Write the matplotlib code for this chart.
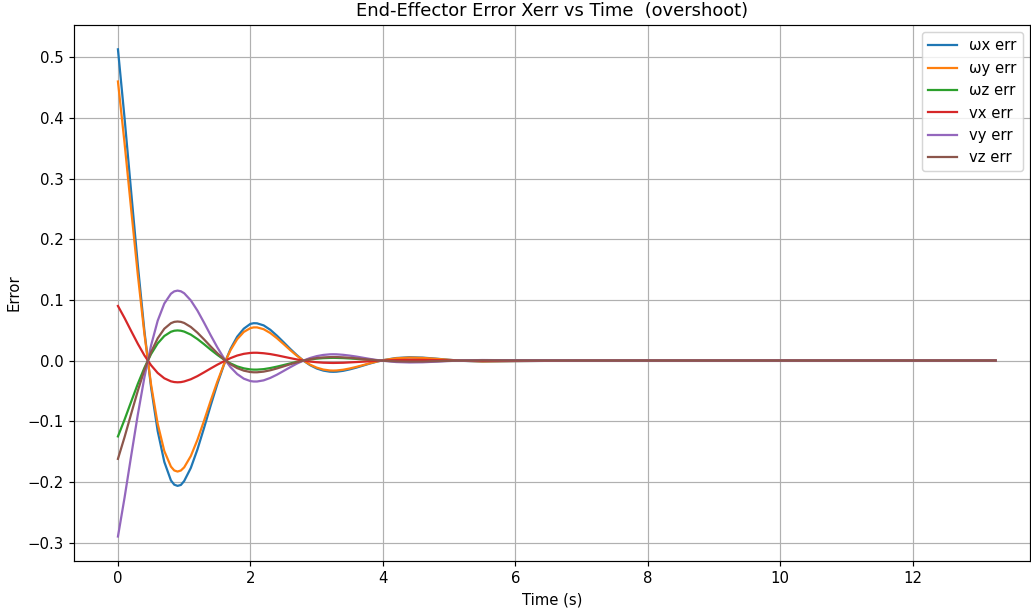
import matplotlib
matplotlib.use("Agg")
import matplotlib.pyplot as plt

# time samples (s)
t = [0.0, 0.1, 0.2, 0.3, 0.4, 0.5, 0.6, 0.7, 0.8, 0.85, 0.9, 0.95,
     1.0, 1.1, 1.2, 1.3, 1.4, 1.5, 1.6, 1.7, 1.8, 1.9,
     2.0, 2.05, 2.1, 2.2, 2.3, 2.4, 2.5, 2.6, 2.7, 2.8, 2.9,
     3.0, 3.1, 3.2, 3.25, 3.3, 3.4, 3.5, 3.6, 3.7, 3.8, 3.9,
     4.0, 4.2, 4.4, 4.6, 4.8, 5.0, 5.2, 5.5, 6.0, 7.0, 13.25]

wx_err = [0.513, 0.3994, 0.2774, 0.1577, 0.0485, -0.0441, -0.1162, -0.1670, -0.1975, -0.2045, -0.2065, -0.2050,
          -0.1985, -0.1770, -0.1465, -0.1110, -0.0740, -0.0388, -0.0070, 0.0193, 0.0393, 0.0526,
          0.0605, 0.0616, 0.0614, 0.0580, 0.0508, 0.0411, 0.0304, 0.0194, 0.0091, -0.0001, -0.0075,
          -0.0130, -0.0165, -0.0183, -0.0185, -0.0183, -0.0169, -0.0145, -0.0116, -0.0083, -0.0050, -0.0020,
          0.0006, 0.0042, 0.0055, 0.0049, 0.0032, 0.0013, -0.0004, -0.0016, -0.0009, 0.0, 0.0]

wy_err = [0.46, 0.3582, 0.2488, 0.1414, 0.0435, -0.0395, -0.1042, -0.1491, -0.1748, -0.1811, -0.1829, -0.1812,
          -0.1760, -0.1574, -0.1306, -0.0992, -0.0663, -0.0348, -0.0063, 0.0173, 0.0352, 0.0472,
          0.0535, 0.0547, 0.0547, 0.0517, 0.0454, 0.0369, 0.0273, 0.0174, 0.0081, 0.0, -0.0067,
          -0.0116, -0.0148, -0.0163, -0.0165, -0.0163, -0.0151, -0.0130, -0.0104, -0.0075, -0.0045, -0.0018,
          0.0006, 0.0038, 0.0049, 0.0044, 0.0029, 0.0012, -0.0003, -0.0014, -0.0008, 0.0, 0.0]

wz_err = [-0.125, -0.0973, -0.0676, -0.0384, -0.0118, 0.0107, 0.0283, 0.0405, 0.0475, 0.0492, 0.0497, 0.0492,
          0.0478, 0.0428, 0.0355, 0.0270, 0.0180, 0.0095, 0.0017, -0.0047, -0.0096, -0.0128,
          -0.0146, -0.0149, -0.0149, -0.0141, -0.0123, -0.0100, -0.0074, -0.0047, -0.0022, 0.0, 0.0018,
          0.0032, 0.0040, 0.0044, 0.0045, 0.0044, 0.0041, 0.0035, 0.0028, 0.0020, 0.0012, 0.0005,
          -0.0002, -0.0010, -0.0013, -0.0012, -0.0008, -0.0003, 0.0001, 0.0004, 0.0002, 0.0, 0.0]

vx_err = [0.09, 0.0701, 0.0487, 0.0277, 0.0085, -0.0077, -0.0204, -0.0292, -0.0342, -0.0354, -0.0358, -0.0355,
          -0.0344, -0.0308, -0.0256, -0.0194, -0.0130, -0.0068, -0.0012, 0.0041, 0.0083, 0.0111,
          0.0126, 0.0129, 0.0129, 0.0121, 0.0107, 0.0087, 0.0064, 0.0041, 0.0019, 0.0, -0.0016,
          -0.0027, -0.0035, -0.0038, -0.0039, -0.0038, -0.0036, -0.0030, -0.0024, -0.0018, -0.0011, -0.0005,
          0.0001, 0.0008, 0.0012, 0.0011, 0.0007, 0.0003, 0.0, -0.0003, -0.0002, 0.0, 0.0]

vy_err = [-0.29, -0.2258, -0.1568, -0.0891, -0.0274, 0.0249, 0.0657, 0.0940, 0.1102, 0.1141, 0.1153, 0.1142,
          0.1110, 0.0992, 0.0824, 0.0625, 0.0418, 0.0219, 0.0040, -0.0109, -0.0222, -0.0298,
          -0.0338, -0.0345, -0.0345, -0.0326, -0.0286, -0.0233, -0.0172, -0.0110, -0.0051, 0.0, 0.0042,
          0.0073, 0.0093, 0.0103, 0.0104, 0.0103, 0.0095, 0.0082, 0.0066, 0.0047, 0.0028, 0.0011,
          -0.0003, -0.0024, -0.0031, -0.0028, -0.0018, -0.0007, 0.0002, 0.0009, 0.0005, 0.0, 0.0]

vz_err = [-0.162, -0.1261, -0.0876, -0.0498, -0.0153, 0.0139, 0.0367, 0.0525, 0.0616, 0.0638, 0.0644, 0.0638,
          0.0620, 0.0554, 0.0460, 0.0349, 0.0233, 0.0122, 0.0022, -0.0061, -0.0124, -0.0166,
          -0.0189, -0.0193, -0.0193, -0.0182, -0.0160, -0.0130, -0.0096, -0.0061, -0.0029, 0.0, 0.0024,
          0.0041, 0.0052, 0.0057, 0.0058, 0.0058, 0.0053, 0.0046, 0.0037, 0.0026, 0.0016, 0.0006,
          -0.0002, -0.0013, -0.0017, -0.0016, -0.0010, -0.0004, 0.0001, 0.0005, 0.0003, 0.0, 0.0]

labels = ["ωx err", "ωy err", "ωz err", "vx err", "vy err", "vz err"]
series = [wx_err, wy_err, wz_err, vx_err, vy_err, vz_err]

DPI = 107
fig, ax = plt.subplots(figsize=(1031 / DPI, 609 / DPI), dpi=DPI)
for y, lab in zip(series, labels):
    ax.plot(t, y, label=lab, lw=1.5)

ax.set_title("End-Effector Error Xerr vs Time  (overshoot)")
ax.set_xlabel("Time (s)")
ax.set_ylabel("Error")
ax.set_xlim(-0.66, 13.77)
ax.grid(True)
ax.legend(loc="upper right")

fig.subplots_adjust(left=0.072, right=0.999, top=0.959, bottom=0.079)
fig.savefig("out.png", dpi=DPI)
